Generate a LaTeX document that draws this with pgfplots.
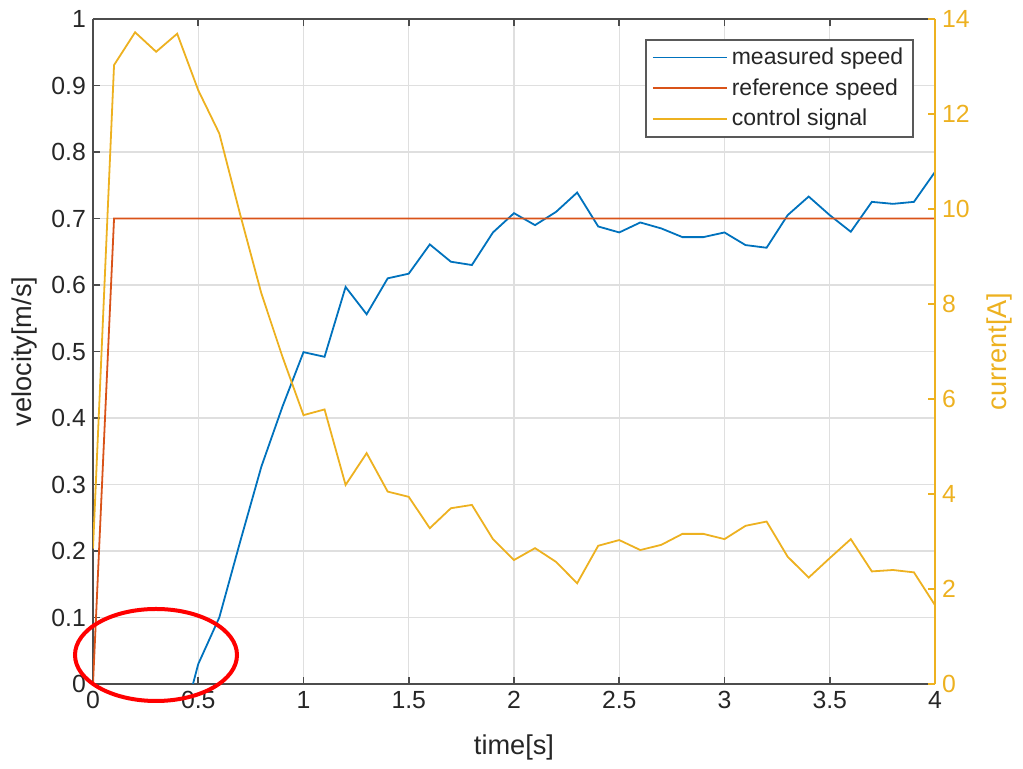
\documentclass[border=0pt]{standalone}
\usepackage{pgfplots}
\pgfplotsset{compat=1.18}
\usepackage{fontspec}
\setmainfont{Liberation Sans}
\definecolor{mblue}{rgb}{0,0.447,0.741}
\definecolor{morange}{rgb}{0.85,0.325,0.098}
\definecolor{myellow}{rgb}{0.929,0.694,0.125}
\definecolor{axgray}{rgb}{0.3,0.3,0.3}
\definecolor{txtgray}{rgb}{0.15,0.15,0.15}
\definecolor{gridgray}{RGB}{223,223,223}

\pgfplotstableread{
t v
0.0 -0.10
0.1 -0.10
0.2 -0.10
0.3 -0.10
0.4 -0.09
0.5 0.030
0.6 0.100
0.7 0.215
0.8 0.327
0.9 0.417
1.0 0.499
1.1 0.492
1.2 0.597
1.3 0.556
1.4 0.610
1.5 0.617
1.6 0.661
1.7 0.635
1.8 0.630
1.9 0.679
2.0 0.708
2.1 0.690
2.2 0.710
2.3 0.739
2.4 0.688
2.5 0.679
2.6 0.694
2.7 0.685
2.8 0.672
2.9 0.672
3.0 0.679
3.1 0.660
3.2 0.656
3.3 0.705
3.4 0.733
3.5 0.705
3.6 0.680
3.7 0.725
3.8 0.722
3.9 0.725
4.0 0.770
}\measured

\pgfplotstableread{
t v
0.0 0.0
0.1 0.7
4.0 0.7
}\reference

\pgfplotstableread{
t c
0.0 2.85
0.1 13.03
0.2 13.72
0.3 13.31
0.4 13.69
0.5 12.50
0.6 11.59
0.7 9.87
0.8 8.22
0.9 6.89
1.0 5.66
1.1 5.78
1.2 4.19
1.3 4.86
1.4 4.05
1.5 3.94
1.6 3.28
1.7 3.70
1.8 3.77
1.9 3.05
2.0 2.61
2.1 2.86
2.2 2.57
2.3 2.12
2.4 2.91
2.5 3.03
2.6 2.82
2.7 2.93
2.8 3.16
2.9 3.16
3.0 3.05
3.1 3.33
3.2 3.42
3.3 2.68
3.4 2.24
3.5 2.65
3.6 3.05
3.7 2.37
3.8 2.40
3.9 2.35
4.0 1.66
}\control

\begin{document}
\begin{tikzpicture}
\pgfplotsset{
  every axis/.append style={
    scale only axis, width=421pt, height=332.5pt,
    at={(0,0)}, anchor=south west,
    xmin=0, xmax=4,
    /pgf/number format/assume math mode=true,
    tick label style={font=\fontsize{12.4}{14}\selectfont},
    label style={font=\fontsize{13.6}{16}\selectfont},
    major tick length=3.5pt, tick align=inside,
  },
}
\begin{axis}[
  axis x line*=box, axis y line*=left,
  ymin=0, ymax=1,
  xtick={0,0.5,...,4},
  ytick={0,0.1,...,1},
  yticklabels={0,0.1,0.2,0.3,0.4,0.5,0.6,0.7,0.8,0.9,1},
  xticklabels={0,0.5,1,1.5,2,2.5,3,3.5,4},
  axis line style={axgray, line width=0.8pt},
  tick style={axgray, line width=0.8pt},
  tick label style={txtgray},
  xmajorgrids, ymajorgrids,
  grid style={gridgray, line width=0.7pt},
  xlabel={time[s]}, ylabel={velocity[m/s]},
  xlabel style={txtgray, at={(axis description cs:0.5,-0.096)}, anchor=center},
  ylabel style={txtgray, at={(axis description cs:-0.081,0.5)}, anchor=center},
]
\addplot[mblue, line width=0.9pt] table[x=t, y=v] {\measured};
\addplot[morange, line width=0.9pt] table[x=t, y=v] {\reference};
\end{axis}
\begin{axis}[
  axis x line=none, axis y line*=right,
  ymin=0, ymax=14,
  ytick={0,2,...,14},
  axis line style={myellow, line width=0.8pt},
  tick style={myellow, line width=0.8pt},
  yticklabel style={myellow},
  ylabel={current[A]},
  ylabel style={myellow, at={(axis description cs:1.077,0.5)}, anchor=center},
  legend cell align=left,
  legend style={at={(0.975,0.97)}, anchor=north east, draw=black!65, line width=0.8pt,
    font=\fontsize{11.5}{13}\selectfont, text=txtgray,
    inner xsep=3pt, inner ysep=2pt, row sep=1.5pt},
  legend image code/.code={\draw[#1] (0cm,0cm) -- (1.3cm,0cm);},
]
\addlegendimage{mblue, line width=0.9pt}
\addlegendentry{measured speed}
\addlegendimage{morange, line width=0.9pt}
\addlegendentry{reference speed}
\addplot[myellow, line width=0.9pt] table[x=t, y=c] {\control};
\addlegendentry{control signal}
\end{axis}
\draw[red, line width=2pt] (31.5pt,14.5pt) ellipse [x radius=40.5pt, y radius=23pt];
\pgfresetboundingbox
\path (-46.5pt,-42.5pt) rectangle (465pt,342pt);
\end{tikzpicture}
\end{document}
